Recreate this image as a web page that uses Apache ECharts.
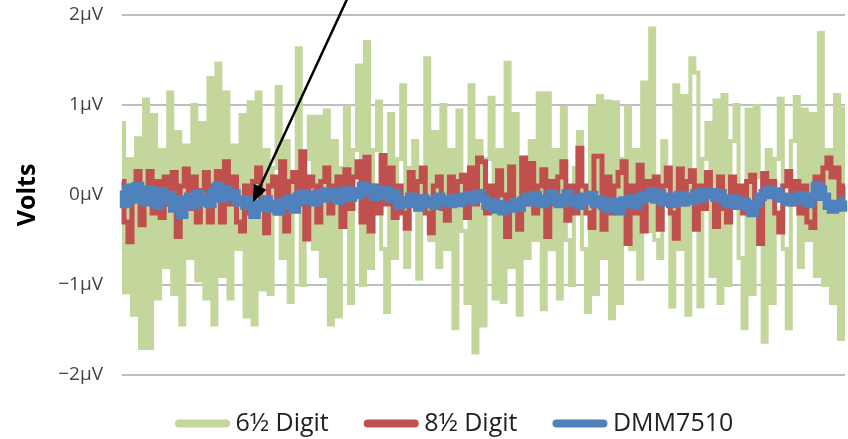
<!DOCTYPE html>
<html>
<head>
<meta charset="utf-8">
<script src="https://cdn.jsdelivr.net/npm/echarts@6/dist/echarts.min.js"></script>
<style>
html,body{margin:0;padding:0;background:#fff;}
#chart{width:848px;height:439px;}
</style>
</head>
<body>
<div id="chart"></div>
<script>
// ---- Data (values in µV) ----
const seriesNames = ['6½ Digit', '8½ Digit', 'DMM7510'];

const green6half = [
0.8,-1.08,0.4,-1.33,0.63,-1.7,1.06,-1.7,0.89,-1.15,
0.5,-0.8,1.14,-1.1,0.7,-1.44,0.55,-0.7,1.0,-0.95,
0.8,-1.15,1.3,-1.44,1.46,-0.9,1.14,-1.15,0.55,-0.6,
0.89,-1.35,1.03,
-1.44,1.14,-1.05,0.5,-1.1,0.3,1.2,-0.7,0.6,-1.19,
0.2,1.63,-1.0,0.4,0.87,-0.6,0.87,-0.9,0.94,-1.44,
0.6,-1.35,0.3,0.98,-1.2,0.5,1.44,-1.0,
1.7,-0.81,0.5,1.04,-0.6,-1.3,0.9,-0.7,0.4,1.22,
-0.8,0.3,0.6,-0.93,0.2,1.52,-0.5,0.7,-0.8,1.0,
-0.6,0.5,-1.48,0.94,-0.4,-1.2,1.22,-1.75,0.6,-1.45,
0.4,1.08,-1.15,0.5,-1.19,1.47,-0.8,0.9,-1.33,0.4,
-0.7,0.6,-0.5,1.13,-1.27,1.13,-0.6,0.5,-1.15,0.97,
-0.5,-1.0,0.3,0.7,-0.6,-1.3,0.97,-1.1,1.1,-0.7,
1.04,-1.37,1.03,-1.2,0.4,0.98,-0.6,0.5,-0.93,1.25,
-0.4,1.85,-0.5,-0.7,0.6,0.3,-1.24,1.22,-0.6,1.1,
-1.33,1.52,1.36,-1.24,0.4,0.8,-0.9,1.05,-1.2,1.11,
-1.0,0.6,1.0,-0.7,-1.48,0.95,-1.1,0.99,0.2,-1.63,
0.5,-1.2,0.4,1.07,-0.6,-1.48,0.6,1.09,-0.8,0.95,
-0.5,0.9,-0.9,1.8,-1.0,0.5,-1.2,1.11,-1.6,0.96
];

const red8half = [
0.15,-0.3,-0.52,0.1,0.26,-0.33,0.05,0.26,-0.2,0.15,
-0.25,0.2,-0.1,0.25,-0.46,0.1,0.29,-0.15,0.2,-0.3,
0.05,0.25,-0.3,0.1,0.26,-0.3,0.37,-0.1,0.2,-0.3,
-0.4,
0.1,-0.2,0.15,0.3,-0.1,-0.42,0.1,0.2,-0.2,0.37,
-0.4,0.15,0.25,-0.1,0.48,-0.49,0.2,0.1,-0.3,0.15,
0.3,-0.2,0.1,0.2,-0.35,0.28,-0.15,0.2,0.37,-0.3,
0.42,-0.4,0.1,-0.2,0.44,-0.1,0.3,-0.25,0.1,-0.2,
-0.37,0.25,-0.1,0.15,0.3,-0.2,-0.42,0.1,0.2,-0.15,
-0.28,0.2,-0.1,0.15,0.22,-0.25,0.3,-0.1,0.41,0.37,
-0.2,0.1,-0.15,0.27,0.0,-0.46,0.31,-0.1,-0.38,0.41,
-0.1,0.35,-0.2,0.1,0.28,-0.46,0.15,-0.1,0.2,0.37,
-0.28,0.1,-0.2,0.52,0.1,-0.2,-0.36,0.43,0.43,-0.38,
0.2,-0.2,0.1,0.25,0.37,-0.54,0.1,-0.2,0.33,-0.4,
0.15,0.05,0.2,-0.38,0.1,0.3,-0.2,-0.48,0.29,-0.1,
0.15,0.27,-0.38,0.1,-0.15,0.25,0.05,-0.35,0.2,-0.15,
-0.3,0.2,-0.1,0.1,-0.2,0.15,0.22,-0.1,-0.54,0.24,
0.0,0.15,-0.2,-0.41,0.1,0.26,-0.1,0.15,-0.2,0.1,
-0.3,-0.36,0.2,0.05,0.3,0.41,0.2,0.3,-0.15,0.1
];

const blueDMM7510 = [
0.05,-0.1,0.08,-0.05,0.1,0.02,-0.08,0.06,-0.02,-0.12,
0.04,-0.06,0.0,-0.15,-0.05,-0.22,-0.1,-0.02,-0.12,0.02,
-0.08,-0.03,-0.1,0.03,0.1,-0.04,0.06,-0.02,0.02,-0.08,
-0.05,
-0.12,-0.06,-0.22,-0.1,-0.14,-0.05,-0.15,-0.1,-0.18,-0.08,
-0.12,-0.04,-0.16,-0.02,0.02,-0.06,0.0,-0.08,0.02,-0.04,
0.04,-0.02,0.03,-0.06,0.02,0.05,-0.03,0.04,0.0,0.1,
0.04,0.08,-0.02,0.06,0.0,0.05,-0.04,0.02,-0.12,-0.06,
-0.1,-0.02,-0.08,-0.14,-0.04,-0.1,-0.06,-0.12,-0.02,-0.08,
-0.05,-0.1,-0.03,-0.09,-0.02,0.0,-0.06,-0.02,0.02,-0.04,
-0.12,-0.08,-0.16,-0.1,-0.18,-0.12,-0.15,-0.08,-0.14,-0.06,
-0.02,-0.08,0.0,-0.06,-0.1,-0.04,0.02,-0.06,-0.1,-0.03,
0.02,-0.08,-0.04,-0.12,-0.02,-0.06,0.0,-0.1,-0.05,-0.12,
-0.15,-0.08,-0.12,-0.18,-0.06,-0.1,-0.04,-0.12,-0.06,0.0,
-0.03,0.04,-0.05,0.02,-0.08,-0.02,-0.1,-0.04,0.0,-0.08,
-0.02,-0.06,0.02,-0.04,0.04,0.0,0.03,-0.03,0.02,-0.06,
-0.1,-0.04,-0.12,-0.06,-0.08,-0.14,-0.2,-0.1,-0.02,0.02,
0.06,0.0,0.04,-0.04,-0.02,-0.08,-0.03,-0.06,0.0,-0.05,
-0.1,-0.02,0.1,0.06,-0.02,-0.12,-0.16,-0.1,-0.14,-0.06
];

const yTickValues = [-2, -1, 0, 1, 2];
const yTickLabels = ['\u22122\u00b5V', '\u22121\u00b5V', '0\u00b5V', '1\u00b5V', '2\u00b5V'];
const yAxisTitle = 'Volts';

// Arrow annotation, in data coordinates [sample index, µV]
const arrowFrom = [56.8, 2.25];
const arrowTo = [32.6, -0.08];

// ---- Chart ----
const colors = ['#c3d69b', '#c0504d', '#4f81bd'];
const widths = [4, 5, 8.5];
const allSeries = [green6half, red8half, blueDMM7510];
const N = Math.max(...allSeries.map(a => a.length));

const chart = echarts.init(document.getElementById('chart'), null, {renderer: 'canvas'});
const legendIcon = 'path://M4,0 L51,0 A4,4 0 0 1 51,8 L4,8 A4,4 0 0 1 4,0 Z';

chart.setOption({
  animation: false,
  backgroundColor: '#ffffff',
  grid: {left: 122, right: 3, top: 15, bottom: 64, containLabel: false},
  legend: {
    left: 170, top: 406,
    itemWidth: 56, itemHeight: 8, itemGap: 35,
    icon: legendIcon,
    textStyle: {fontFamily: 'Open Sans', fontSize: 25, color: '#222', padding: [0, 0, 0, 0]},
    data: seriesNames
  },
  xAxis: {
    type: 'value', min: 0, max: N - 1,
    show: false
  },
  yAxis: {
    type: 'value', min: -2, max: 2, interval: 1,
    name: yAxisTitle, nameLocation: 'middle', nameRotate: 90, nameGap: 82,
    nameTextStyle: {fontFamily: 'Open Sans', fontWeight: 'bold', fontSize: 25, color: '#000'},
    axisLine: {show: false}, axisTick: {show: false},
    axisLabel: {
      margin: 19, fontFamily: 'Open Sans', fontSize: 19, color: '#444',
      formatter: v => yTickLabels[yTickValues.indexOf(v)]
    },
    splitLine: {lineStyle: {color: '#a8a8a8', width: 1.5}}
  },
  series: allSeries.map((arr, k) => ({
    name: seriesNames[k],
    type: 'line',
    step: 'middle',
    data: arr.map((v, i) => [i, v]),
    showSymbol: false,
    symbol: 'none',
    color: colors[k],
    lineStyle: {color: colors[k], width: widths[k], join: 'miter', cap: 'butt'},
    z: 2 + k
  }))
});

// Arrow built from data coordinates through the chart's scales
const p0 = chart.convertToPixel({gridIndex: 0}, arrowFrom);
const p1 = chart.convertToPixel({gridIndex: 0}, arrowTo);
const dx = p1[0] - p0[0], dy = p1[1] - p0[1];
const len = Math.sqrt(dx * dx + dy * dy);
const ux = dx / len, uy = dy / len;
const headLen = 17, headHalf = 7;
const bx = p1[0] - ux * headLen, by = p1[1] - uy * headLen;
const nx = -uy, ny = ux;
chart.setOption({
  graphic: [
    {type: 'line', z: 100, shape: {x1: p0[0], y1: p0[1], x2: bx + ux * 2, y2: by + uy * 2},
     style: {stroke: '#000', lineWidth: 2.5}},
    {type: 'polygon', z: 100, shape: {points: [[p1[0], p1[1]], [bx + nx * headHalf, by + ny * headHalf], [bx - nx * headHalf, by - ny * headHalf]]},
     style: {fill: '#000'}}
  ]
});
</script>
</body>
</html>
